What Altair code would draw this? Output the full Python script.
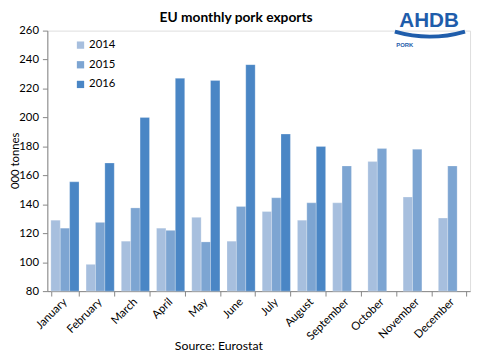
import altair as alt
import pandas as pd

months = ["January", "February", "March", "April", "May", "June", "July",
          "August", "September", "October", "November", "December"]
years = ["2014", "2015", "2016"]
v2014 = [129, 98.5, 114.5, 123.5, 131, 114.5, 135, 129, 141, 169.5, 145, 130.5]
v2015 = [123.5, 127.5, 137.5, 122, 114, 138.5, 144.5, 141, 166.5, 178.5, 178, 166.5]
v2016 = [155.5, 168.5, 200, 227, 225.5, 236.5, 188.5, 180, None, None, None, None]
colors = ["#A7BFDE", "#7DA5D2", "#4A86C5"]
chart_title = "EU monthly pork exports"
source = "Source: Eurostat"

rows = []
for yr, vals in zip(years, [v2014, v2015, v2016]):
    for m, v in zip(months, vals):
        if v is not None:
            rows.append({"month": m, "year": yr, "value": v})
df = pd.DataFrame(rows)

FONT = "Lato"
BLUE = "#1F5DAB"

bars = alt.Chart(df).mark_bar(stroke="white", strokeWidth=0.4, strokeOpacity=0.6).encode(
    x=alt.X("month:N", sort=months,
            scale=alt.Scale(paddingInner=0.2, paddingOuter=0.1),
            axis=alt.Axis(title=source, labelAngle=315, labelAlign="right",
                          labelBaseline="middle", tickBand="extent", tickSize=5,
                          labelPadding=4, labelFontSize=11.5, labelColor="#000000",
                          labelFont=FONT, domainColor="#868686", tickColor="#868686",
                          titleFont=FONT, titleFontSize=12.5, titleFontWeight="normal",
                          titleColor="#000000", titleX=174, titleY=62,
                          titleBaseline="bottom",
                          titleAnchor="middle", titleAlign="center")),
    xOffset=alt.XOffset("year:N", sort=years, scale=alt.Scale(paddingInner=0, paddingOuter=0)),
    y=alt.Y("value:Q", scale=alt.Scale(domain=[80, 260], clamp=True, zero=False, nice=False),
            axis=alt.Axis(values=list(range(80, 261, 20)), title="000 tonnes", grid=False,
                          tickSize=5, labelFontSize=11.5, labelColor="#000000", labelFont=FONT,
                          domainColor="#868686", tickColor="#868686", labelPadding=4,
                          titleFont=FONT, titleFontSize=11.5, titleFontWeight="normal",
                          titleColor="#000000", titleX=-32, titleY=132,
                          titleAngle=270, titleBaseline="middle", titleAlign="center")),
    color=alt.Color("year:N", sort=years, scale=alt.Scale(domain=years, range=colors),
                    legend=alt.Legend(title=None, orient="none", legendX=28, legendY=9,
                                      symbolType="square", symbolSize=55, symbolStrokeWidth=0,
                                      labelFontSize=11.5, labelFont=FONT, labelColor="#000000",
                                      rowPadding=7, labelOffset=3)),
)

one = pd.DataFrame({"t": [chart_title]})
title_mark = alt.Chart(one).mark_text(
    text=chart_title, font=FONT, fontSize=14, fontWeight="bold", color="#000000",
    align="center", baseline="alphabetic"
).encode(x=alt.value(192), y=alt.value(-9))
logo_text = alt.Chart(one).mark_text(
    text="AHDB", font="Liberation Sans", fontSize=21, fontWeight="bold",
    color=BLUE, align="left", baseline="alphabetic"
).encode(x=alt.value(358), y=alt.value(-4))
pork_text = alt.Chart(one).mark_text(
    text="PORK", font="Liberation Sans", fontSize=6, fontWeight="bold",
    color=BLUE, align="left", baseline="middle"
).encode(x=alt.value(355), y=alt.value(15))
swoosh = alt.Chart(one).mark_arc(color=BLUE).encode(
    x=alt.value(389), y=alt.value(-123), radius=alt.value(131), radius2=alt.value(127),
    theta=alt.value(2.86), theta2=alt.value(3.42))

chart = alt.layer(bars, title_mark, logo_text, pork_text, swoosh).properties(
    width=430, height=265,
    autosize="none",
    padding={"left": 40, "top": 20, "right": 3, "bottom": 64},
).configure_view(stroke=None).configure(background="white")

chart.save("out.html", embed_options={"renderer": "svg", "actions": False})
